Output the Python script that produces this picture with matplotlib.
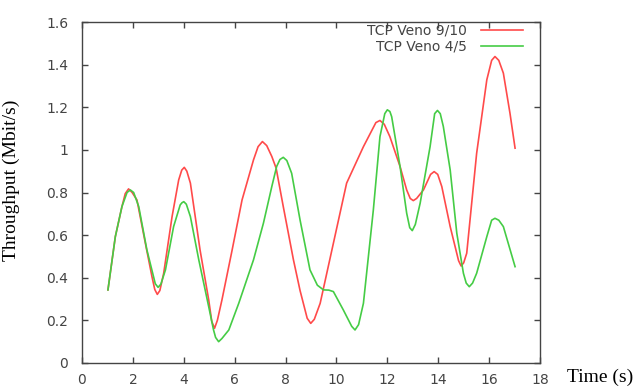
import matplotlib
matplotlib.use("Agg")
import matplotlib.pyplot as plt

# --- data (time in s, throughput in Mbit/s) ---
t_veno910 = [1.02, 1.31, 1.57, 1.70, 1.83, 1.97, 2.16, 2.49, 2.75, 2.86, 2.96,
             3.06, 3.21, 3.54, 3.80, 3.92, 4.02, 4.12, 4.26, 4.64, 4.98, 5.10,
             5.21, 5.32, 5.50, 5.90, 6.29, 6.74, 6.92, 7.09, 7.26, 7.46, 7.63,
             7.91, 8.31, 8.57, 8.85, 8.99, 9.13, 9.36, 9.88, 10.40, 11.06,
             11.55, 11.71, 11.88, 12.10, 12.50, 12.76, 12.90, 13.02, 13.15,
             13.42, 13.70, 13.84, 13.98, 14.14, 14.47, 14.80, 14.90, 15.00,
             15.12, 15.51, 15.91, 16.10, 16.23, 16.38, 16.56, 16.82, 17.02]
v_veno910 = [0.343, 0.593, 0.734, 0.795, 0.817, 0.800, 0.765, 0.562, 0.405,
             0.345, 0.322, 0.340, 0.421, 0.687, 0.859, 0.905, 0.918, 0.900,
             0.844, 0.530, 0.296, 0.195, 0.163, 0.200, 0.296, 0.530, 0.765,
             0.953, 1.015, 1.039, 1.020, 0.969, 0.914, 0.734, 0.484, 0.340,
             0.210, 0.186, 0.205, 0.280, 0.562, 0.844, 1.015, 1.128, 1.138,
             1.120, 1.062, 0.922, 0.812, 0.772, 0.762, 0.772, 0.812, 0.885,
             0.898, 0.885, 0.828, 0.640, 0.480, 0.455, 0.470, 0.515, 0.984,
             1.329, 1.420, 1.438, 1.420, 1.360, 1.172, 1.008]

t_veno45 = [1.02, 1.31, 1.57, 1.77, 1.90, 2.03, 2.23, 2.55, 2.88, 2.99, 3.10,
            3.28, 3.60, 3.86, 3.93, 4.00, 4.10, 4.26, 4.59, 4.98, 5.17, 5.25,
            5.37, 5.50, 5.77, 6.16, 6.74, 7.13, 7.46, 7.65, 7.78, 7.91, 8.05,
            8.24, 8.57, 8.96, 9.25, 9.49, 9.70, 9.88, 10.27, 10.60, 10.73,
            10.87, 11.06, 11.45, 11.71, 11.90, 12.00, 12.10, 12.17, 12.50,
            12.76, 12.88, 12.98, 13.10, 13.29, 13.68, 13.86, 13.97, 14.08,
            14.20, 14.47, 14.73, 14.99, 15.10, 15.22, 15.35, 15.51, 15.91,
            16.10, 16.23, 16.38, 16.56, 17.02]
v_veno45 = [0.343, 0.593, 0.734, 0.800, 0.812, 0.800, 0.734, 0.531, 0.372,
            0.355, 0.370, 0.437, 0.640, 0.742, 0.752, 0.757, 0.745, 0.687,
            0.484, 0.264, 0.155, 0.120, 0.100, 0.115, 0.155, 0.280, 0.484,
            0.656, 0.828, 0.922, 0.955, 0.965, 0.950, 0.890, 0.671, 0.437,
            0.365, 0.343, 0.342, 0.335, 0.249, 0.172, 0.155, 0.180, 0.280,
            0.718, 1.062, 1.170, 1.188, 1.180, 1.156, 0.922, 0.703, 0.635,
            0.621, 0.650, 0.750, 1.015, 1.170, 1.185, 1.170, 1.110, 0.906,
            0.609, 0.421, 0.375, 0.358, 0.375, 0.421, 0.593, 0.670, 0.679,
            0.670, 0.640, 0.452]

x_ticks = [0, 2, 4, 6, 8, 10, 12, 14, 16, 18]
y_ticks = [0, 0.2, 0.4, 0.6, 0.8, 1.0, 1.2, 1.4, 1.6]
y_labels = ["0", "0.2", "0.4", "0.6", "0.8", "1", "1.2", "1.4", "1.6"]

RED = "#ff4a4a"
GREEN = "#45cc45"
FRAME = "#444444"

fig = plt.figure(figsize=(6.35, 3.87), dpi=100)
ax = fig.add_axes([82 / 635, 24 / 387, 458 / 635, 341 / 387])

ax.plot(t_veno910, v_veno910, color=RED, lw=1.2, label="TCP Veno 9/10")
ax.plot(t_veno45, v_veno45, color=GREEN, lw=1.2, label="TCP Veno 4/5")

ax.set_xlim(0, 18)
ax.set_ylim(0, 1.6)
ax.set_xticks(x_ticks)
ax.set_yticks(y_ticks)
ax.set_yticklabels(y_labels)

# gnuplot-ish frame: inward ticks mirrored on all sides
ax.tick_params(direction="in", length=4, width=1, color=FRAME,
               top=True, right=True, labelsize=10, labelcolor="#444444")
ax.tick_params(axis="y", pad=10)
ax.tick_params(axis="x", pad=7)
for sp in ax.spines.values():
    sp.set_color(FRAME)
    sp.set_linewidth(1.0)

ax.set_ylabel("Throughput (Mbit/s)", family="Liberation Serif", fontsize=14)
ax.yaxis.set_label_coords(-0.135, 0.535)
fig.text(567 / 635, 1 - 377 / 387, "Time (s)", family="Liberation Serif",
         fontsize=14, va="center", ha="left")

leg = ax.legend(loc="upper right", bbox_to_anchor=(0.962, 0.995),
                frameon=False, markerfirst=False, fontsize=10,
                handlelength=3.0, handletextpad=1.0, labelspacing=0.15,
                borderaxespad=0, borderpad=0)
for txt in leg.get_texts():
    txt.set_color("#444444")

fig.savefig("out.png", dpi=100)
